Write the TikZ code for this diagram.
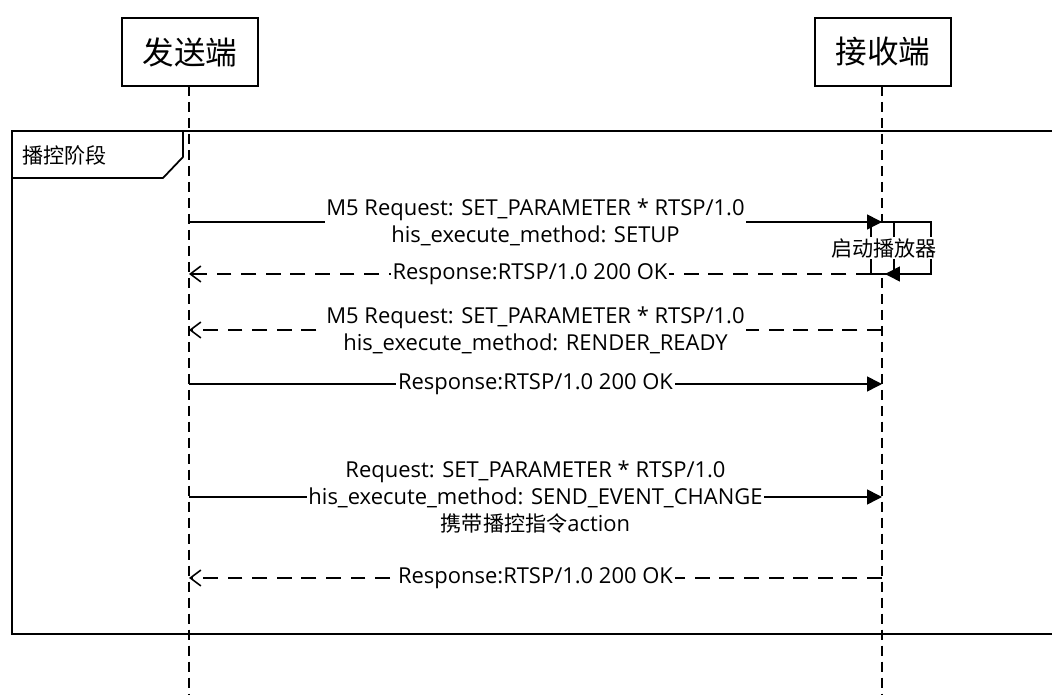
\documentclass[tikz,border=0pt]{standalone}
\usepackage{fontspec}
\setmainfont{Open Sans}
\newfontfamily\cjk{Noto Sans CJK SC}
\usetikzlibrary{arrows.meta, positioning, calc}
\definecolor{ink}{RGB}{0,0,0}

\begin{document}
\begin{tikzpicture}[x=0.02cm, y=-0.02cm,
  headbox/.style={draw=ink, line width=1pt, minimum width=136*0.02cm, minimum height=68*0.02cm, inner sep=0pt, font=\cjk\fontsize{18}{20}\selectfont},
  lifeline/.style={draw=ink, line width=0.9pt, dash pattern=on 5.7pt off 3.4pt},
  msg/.style={draw=ink, line width=0.9pt, -{Triangle[length=8.5pt, width=8.5pt]}},
  reply/.style={draw=ink, line width=0.9pt, dash pattern=on 8.5pt off 5.5pt, -{Straight Barb[length=6pt, width=9pt]}},
  lbl/.style={fill=white, inner sep=1pt, align=center, font=\fontsize{12.5}{15.4}\selectfont, text=ink},
  tabtext/.style={font=\cjk\fontsize{12}{14}\selectfont, text=ink, anchor=west, inner sep=0pt}
]
\useasboundingbox (0,0) rectangle (1052,695);

% participants
\node[headbox] (snd) at (190,52) {发送端};
\node[headbox] (rcv) at (883,52) {接收端};
\coordinate (sndEnd) at (189,695);
\coordinate (rcvEnd) at (882,695);
\draw[lifeline] (189,86) -- (sndEnd);
\draw[lifeline] (882,86) -- (rcvEnd);

% combined fragment
\draw[ink, line width=1.2pt] (1060,131) -- (12,131) -- (12,634) -- (1060,634);
\draw[ink, line width=1pt] (183,131) -- (183,157) -- (163,178) -- (12,178);
\node[tabtext] (frag) at (22,155) {播控阶段};

% message anchors
\foreach \i/\y in {1/222,2/274,3/330,4/384,5/497,6/578}{
  \coordinate (s\i) at (189,\y);
  \coordinate (r\i) at (882,\y);
}

% activation + self call
\coordinate (actA) at (871,222);
\coordinate (actB) at (894,274);
\coordinate (loopA) at (931,222);
\coordinate (loopB) at (931,274);
\coordinate (loopEnd) at (885,274);
\draw[ink, line width=0.9pt, fill=white] (actA) rectangle (actB);
\draw[msg] (actB |- actA) -- (loopA) -- (loopB) -- (loopEnd);
\node[lbl, font=\cjk\fontsize{12}{14}\selectfont, inner sep=0.5pt] (selfLbl) at (884,248) {启动播放器};

\draw[msg] (s1) -- node[lbl] {M5 Request: SET\_PARAMETER * RTSP/1.0\\his\_execute\_method: SETUP} (r1);
\draw[reply] (actA |- r2) -- node[lbl] {Response:RTSP/1.0 200 OK} (s2);
\draw[reply] (r3) -- node[lbl] {M5 Request: SET\_PARAMETER * RTSP/1.0\\his\_execute\_method: RENDER\_READY} (s3);
\draw[msg] (s4) -- node[lbl] {Response:RTSP/1.0 200 OK} (r4);
\draw[msg] (s5) -- node[lbl] {Request: SET\_PARAMETER * RTSP/1.0\\his\_execute\_method: SEND\_EVENT\_CHANGE\\{\cjk\fontsize{12}{14}\selectfont 携带播控指令}action} (r5);
\draw[reply] (r6) -- node[lbl] {Response:RTSP/1.0 200 OK} (s6);
\end{tikzpicture}
\end{document}
